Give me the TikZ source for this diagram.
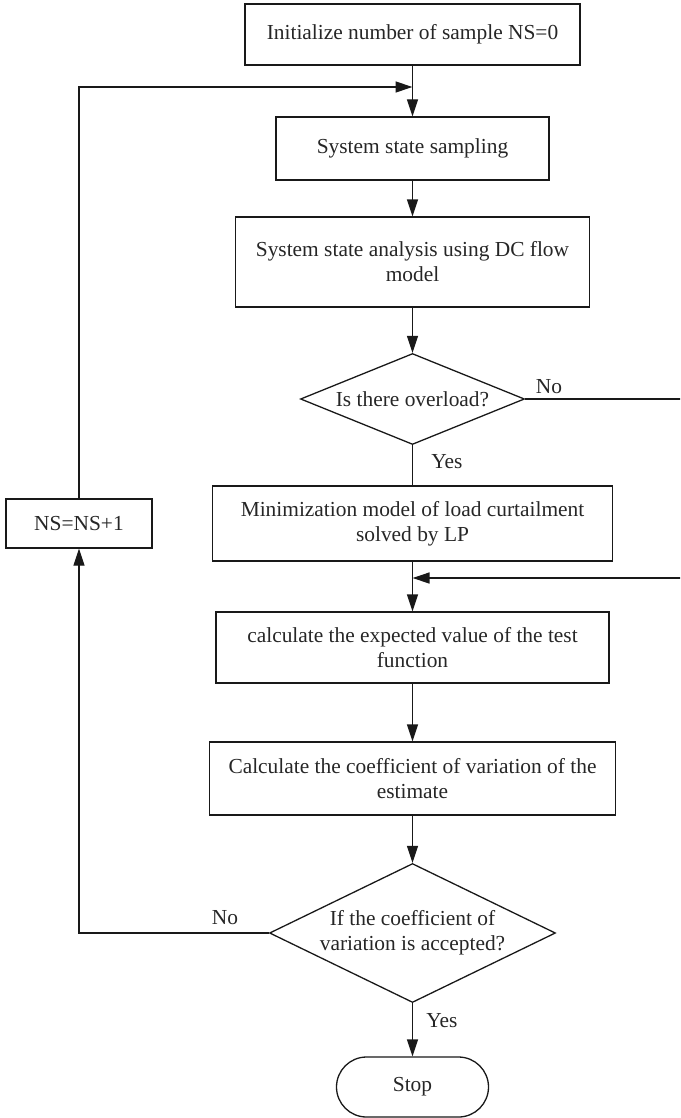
\documentclass[tikz,border=0pt]{standalone}
\usepackage{fontspec}
\setmainfont{Liberation Serif}
\usetikzlibrary{shapes.geometric,arrows.meta}
\begin{document}
\begin{tikzpicture}[x=1pt,y=-1pt,
  every node/.style={font=\fontsize{21.4}{25}\selectfont, text=black!85},
  flow/.style={line width=1.3pt, draw=black!90},
  stepbox/.style={draw=black!90, line width=1.3pt, rectangle, inner sep=0pt, align=center},
  decision/.style={draw=black!90, line width=1.3pt, diamond, inner sep=0pt},
  terminal/.style={draw=black!90, line width=1.3pt, rectangle, rounded corners=30pt, inner sep=0pt},
  arr/.style={flow, -{Triangle[length=17pt,width=11pt]}},
  lbl/.style={inner sep=0pt}
]
\useasboundingbox (0,0) rectangle (680,1118);
\clip (0,0) rectangle (680,1118);

% process steps
\node[stepbox, minimum width=335pt, minimum height=61pt] (init) at (412.5,34.5) {Initialize number of sample NS=0};
\node[stepbox, minimum width=273pt, minimum height=63pt] (sample) at (412.5,148.5) {System state sampling};
\node[stepbox, minimum width=354pt, minimum height=90pt] (analysis) at (412.5,262) {System state analysis using DC flow\\model};
\node[decision, minimum width=224pt, minimum height=91pt] (over) at (412.5,399) {\makebox[0pt]{Is there overload?}};
\node[stepbox, minimum width=400pt, minimum height=75pt] (minim) at (412.5,523.5) {Minimization model of load curtailment\\solved by LP};
\node[stepbox, minimum width=393pt, minimum height=71pt] (expect) at (412.5,647.5) {calculate the expected value of the test\\function};
\node[stepbox, minimum width=406pt, minimum height=73pt] (coef) at (412.5,778.5) {Calculate the coefficient of variation of the\\estimate};
\node[decision, minimum width=286pt, minimum height=139pt] (accept) at (412.5,933)
  {\makebox[0pt]{\begin{tabular}{@{}c@{}}If the coefficient of\\variation is accepted?\end{tabular}}};
\node[terminal, minimum width=152pt, minimum height=60pt] (stop) at (412.5,1087) {Stop};
\node[stepbox, minimum width=146pt, minimum height=49pt] (ns) at (79,523.5) {NS=NS+1};

% junction points
\coordinate (m1) at (412.5,87);
\coordinate (m2) at (412.5,578);
\coordinate (r1) at (684,399);
\coordinate (r2) at (684,578);

% main flow
\draw[arr] (init) -- (sample);
\draw[arr] (sample) -- (analysis);
\draw[arr] (analysis) -- (over);
\draw[flow] (over) -- (minim);
\draw[arr] (minim) -- (expect);
\draw[arr] (expect) -- (coef);
\draw[arr] (coef) -- (accept);
\draw[arr] (accept) -- (stop);

% bypass when there is no overload
\draw[arr] (over.east) -- (r1) -- (r2) -- (m2);

% loop back for the next sample
\draw[arr] (accept.west) -| (ns.south);
\draw[arr] (ns.north) |- (m1);

% branch labels
\node[lbl] (no1) at (549,387) {No};
\node[lbl] (yes1) at (447,462) {Yes};
\node[lbl] (no2) at (225,918) {No};
\node[lbl] (yes2) at (442,1021) {Yes};
\end{tikzpicture}
\end{document}
